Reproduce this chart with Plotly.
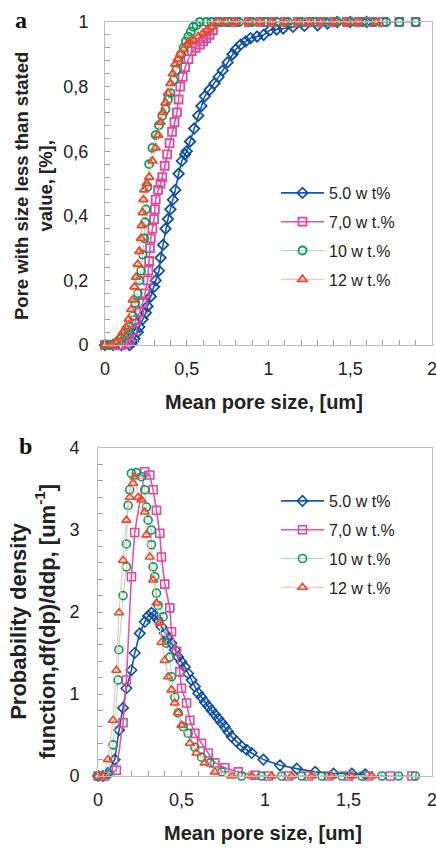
import plotly.graph_objects as go

# ---------------- data ----------------
series_names = ["5.0 w t%", "7,0 w t.%", "10 w t.%", "12 w t.%"]

# Panel a: cumulative distributions (x = mean pore size, um ; y = fraction)
cdf5_x = [0.0, 0.05, 0.10, 0.15, 0.17, 0.18, 0.20, 0.21, 0.23, 0.25, 0.26, 0.28, 0.30, 0.31, 0.33,
          0.34, 0.355, 0.37, 0.385, 0.40, 0.415, 0.43, 0.45, 0.47, 0.49, 0.50, 0.52, 0.545, 0.57,
          0.59, 0.61, 0.64, 0.67, 0.695, 0.72, 0.75, 0.78, 0.80, 0.83, 0.86, 0.89, 0.93, 0.97,
          1.01, 1.05, 1.09, 1.15, 1.22, 1.30, 1.36, 1.42, 1.50, 1.60]
cdf5_y = [0.0, 0.0, 0.0, 0.0, 0.01, 0.02, 0.04, 0.056, 0.08, 0.10, 0.12, 0.15, 0.18, 0.20, 0.23,
          0.27, 0.31, 0.36, 0.39, 0.42, 0.45, 0.48, 0.53, 0.57, 0.59, 0.60, 0.63, 0.67, 0.71,
          0.74, 0.77, 0.79, 0.81, 0.83, 0.85, 0.875, 0.90, 0.915, 0.93, 0.94, 0.95, 0.955, 0.96,
          0.975, 0.977, 0.98, 0.985, 0.988, 0.99, 0.995, 1.0, 1.0, 1.0]

cdf7_x = [0.0, 0.05, 0.10, 0.13, 0.15, 0.17, 0.19, 0.21, 0.23, 0.245, 0.26, 0.265, 0.27, 0.275, 0.28,
          0.29, 0.30, 0.305, 0.31, 0.325, 0.34, 0.35, 0.365, 0.38, 0.395, 0.41, 0.425, 0.44, 0.45,
          0.46, 0.475, 0.49, 0.51, 0.53, 0.555, 0.58, 0.60, 0.62, 0.64, 0.66, 0.69, 0.75, 0.80,
          0.88, 0.95, 1.02, 1.10, 1.18, 1.25, 1.32, 1.40, 1.48, 1.55, 1.62, 1.70, 1.80, 1.90]
cdf7_y = [0.0, 0.0, 0.0, 0.005, 0.015, 0.045, 0.077, 0.10, 0.13, 0.16, 0.20, 0.23, 0.26, 0.30, 0.33,
          0.36, 0.39, 0.42, 0.45, 0.48, 0.50, 0.52, 0.555, 0.59, 0.625, 0.66, 0.69, 0.72, 0.76,
          0.80, 0.83, 0.86, 0.885, 0.91, 0.92, 0.93, 0.94, 0.95, 0.96, 0.975, 1.0, 1.0, 1.0,
          1.0, 1.0, 1.0, 1.0, 1.0, 1.0, 1.0, 1.0, 1.0, 1.0, 1.0, 1.0, 1.0, 1.0]

cdf10_x = [0.0, 0.03, 0.06, 0.08, 0.10, 0.12, 0.14, 0.15, 0.17, 0.185, 0.20, 0.21, 0.22, 0.23, 0.24,
           0.245, 0.25, 0.26, 0.27, 0.29, 0.31, 0.33, 0.35, 0.37, 0.385, 0.40, 0.42, 0.435, 0.45,
           0.465, 0.48, 0.495, 0.51, 0.525, 0.54, 0.56, 0.58, 0.62, 0.65, 0.70, 0.75, 0.82, 0.90,
           0.98, 1.05, 1.12, 1.20, 1.28, 1.35, 1.42, 1.50, 1.58, 1.65, 1.72, 1.80, 1.90]
cdf10_y = [0.0, 0.0, 0.005, 0.01, 0.02, 0.03, 0.045, 0.056, 0.09, 0.13, 0.16, 0.20, 0.23, 0.28, 0.33,
           0.38, 0.42, 0.49, 0.56, 0.61, 0.65, 0.68, 0.71, 0.73, 0.76, 0.78, 0.82, 0.85, 0.88,
           0.90, 0.92, 0.94, 0.955, 0.97, 0.985, 0.99, 1.0, 1.0, 1.0, 1.0, 1.0, 1.0, 1.0,
           1.0, 1.0, 1.0, 1.0, 1.0, 1.0, 1.0, 1.0, 1.0, 1.0, 1.0, 1.0, 1.0]

cdf12_x = [0.0, 0.04, 0.07, 0.09, 0.11, 0.13, 0.145, 0.16, 0.17, 0.18, 0.19, 0.20, 0.21, 0.22, 0.225,
           0.23, 0.235, 0.24, 0.255, 0.27, 0.29, 0.31, 0.325, 0.34, 0.355, 0.37, 0.385, 0.40, 0.415,
           0.43, 0.445, 0.46, 0.48, 0.50, 0.52, 0.54, 0.57, 0.60, 0.625, 0.65, 0.69, 0.74, 0.80,
           0.88, 0.95, 1.02, 1.10, 1.18, 1.25, 1.32, 1.40, 1.48, 1.55, 1.66]
cdf12_y = [0.0, 0.0, 0.01, 0.025, 0.04, 0.056, 0.08, 0.11, 0.14, 0.18, 0.21, 0.25, 0.29, 0.33, 0.37,
           0.41, 0.45, 0.48, 0.50, 0.52, 0.57, 0.61, 0.65, 0.69, 0.72, 0.75, 0.78, 0.81, 0.84,
           0.87, 0.885, 0.90, 0.915, 0.93, 0.94, 0.944, 0.955, 0.966, 0.975, 0.985, 1.0, 1.0, 1.0,
           1.0, 1.0, 1.0, 1.0, 1.0, 1.0, 1.0, 1.0, 1.0, 1.0, 1.0]

# Panel b: probability density functions (um^-1)
pdf5_x = [0.0, 0.03, 0.06, 0.10, 0.126, 0.15, 0.17, 0.20, 0.22, 0.25, 0.28, 0.30, 0.32, 0.34, 0.36,
          0.38, 0.40, 0.42, 0.44, 0.46, 0.48, 0.50, 0.52, 0.54, 0.56, 0.58, 0.60, 0.62, 0.64, 0.66,
          0.68, 0.70, 0.72, 0.74, 0.76, 0.78, 0.80, 0.83, 0.86, 0.89, 0.92, 0.99, 1.09, 1.19, 1.30,
          1.41, 1.52, 1.60]
pdf5_y = [0.0, 0.0, 0.04, 0.20, 0.56, 0.83, 1.07, 1.29, 1.50, 1.74, 1.88, 1.95, 1.99, 1.96, 1.90,
          1.82, 1.74, 1.68, 1.62, 1.54, 1.45, 1.39, 1.33, 1.25, 1.17, 1.09, 1.01, 0.96, 0.90, 0.85,
          0.80, 0.75, 0.70, 0.65, 0.60, 0.54, 0.48, 0.42, 0.36, 0.32, 0.28, 0.20, 0.13, 0.09, 0.05,
          0.03, 0.03, 0.02]

pdf7_x = [0.0, 0.04, 0.11, 0.15, 0.17, 0.20, 0.22, 0.28, 0.31, 0.33, 0.35, 0.37, 0.38, 0.40, 0.43,
          0.44, 0.47, 0.49, 0.50, 0.53, 0.55, 0.58, 0.62, 0.66, 0.70, 0.76, 0.84, 0.94, 1.02, 1.14,
          1.26, 1.38, 1.50, 1.62, 1.75, 1.88]
pdf7_y = [0.0, 0.0, 0.07, 0.65, 1.17, 2.43, 2.97, 3.71, 3.67, 3.49, 3.24, 2.96, 2.67, 2.34, 2.05,
          1.76, 1.52, 1.27, 1.07, 0.89, 0.68, 0.52, 0.40, 0.28, 0.16, 0.10, 0.05, 0.01, 0.0, 0.0,
          0.0, 0.0, 0.0, 0.0, 0.0, 0.0]

pdf10_x = [0.0, 0.06, 0.09, 0.12, 0.125, 0.15, 0.17, 0.17, 0.18, 0.19, 0.20, 0.23, 0.26, 0.28, 0.29,
           0.30, 0.32, 0.32, 0.33, 0.34, 0.35, 0.36, 0.39, 0.41, 0.43, 0.44, 0.46, 0.48, 0.51, 0.54,
           0.58, 0.62, 0.67, 0.74, 0.86, 0.98, 1.10, 1.22, 1.34, 1.46, 1.58, 1.70, 1.80, 1.90]
pdf10_y = [0.0, 0.02, 0.38, 1.17, 1.54, 2.20, 2.55, 2.83, 3.30, 3.49, 3.69, 3.70, 3.65, 3.49, 3.28,
           3.12, 3.00, 2.82, 2.55, 2.43, 2.23, 2.08, 1.94, 1.62, 1.45, 1.21, 0.96, 0.77, 0.60, 0.52,
           0.35, 0.23, 0.16, 0.05, 0.0, 0.0, 0.0, 0.0, 0.0, 0.0, 0.0, 0.0, 0.0, 0.0]

pdf12_x = [0.0, 0.03, 0.06, 0.09, 0.11, 0.126, 0.15, 0.17, 0.19, 0.21, 0.22, 0.24, 0.26, 0.28, 0.29,
           0.31, 0.33, 0.35, 0.37, 0.38, 0.40, 0.42, 0.44, 0.46, 0.48, 0.50, 0.55, 0.59, 0.64, 0.70,
           0.80, 0.92, 1.04, 1.16, 1.28, 1.40, 1.52, 1.64]
pdf12_y = [0.0, 0.0, 0.20, 0.68, 1.29, 1.99, 2.63, 3.12, 3.40, 3.57, 3.65, 3.40, 3.37, 3.22, 2.94,
           2.67, 2.39, 2.11, 1.87, 1.63, 1.41, 1.21, 1.05, 0.89, 0.77, 0.62, 0.40, 0.28, 0.16, 0.05,
           0.0, 0.0, 0.0, 0.0, 0.0, 0.0, 0.0, 0.0]

x_ticks = [0, 0.5, 1, 1.5, 2]
x_tick_text = ["0", "0,5", "1", "1,5", "2"]
ya_ticks = [0, 0.2, 0.4, 0.6, 0.8, 1]
ya_tick_text = ["0", "0,2", "0,4", "0,6", "0,8", "1"]
yb_ticks = [0, 1, 2, 3, 4]
yb_tick_text = ["0", "1", "2", "3", "4"]

# ---------------- styles ----------------
marker_colors = ["#0d4fa6", "#e0479e", "#0a9a5c", "#f0472a"]
line_colors = ["#1a58ad", "#e2559f", "#a6dcc4", "#f8bca6"]
line_widths = [1.6, 1.6, 1.0, 1.0]
symbols = ["diamond-open", "square-open", "circle-open", "triangle-up-open"]
FONT = "Liberation Sans, Arial, sans-serif"
W, H = 436, 853

fig = go.Figure()

cdfs = [(cdf5_x, cdf5_y), (cdf7_x, cdf7_y), (cdf10_x, cdf10_y), (cdf12_x, cdf12_y)]
pdfs = [(pdf5_x, pdf5_y), (pdf7_x, pdf7_y), (pdf10_x, pdf10_y), (pdf12_x, pdf12_y)]

for i, (xs, ys) in enumerate(cdfs):
    fig.add_trace(go.Scatter(
        x=xs, y=ys, mode="lines+markers", name=series_names[i],
        xaxis="x", yaxis="y", legend="legend", legendgroup="a%d" % i,
        line=dict(color=line_colors[i], width=line_widths[i]),
        marker=dict(symbol=symbols[i], size=8, color=marker_colors[i],
                    line=dict(color=marker_colors[i], width=1.8)),
        cliponaxis=False))

for i, (xs, ys) in enumerate(pdfs):
    fig.add_trace(go.Scatter(
        x=xs, y=ys, mode="lines+markers", name=series_names[i],
        xaxis="x2", yaxis="y2", legend="legend2", legendgroup="b%d" % i,
        line=dict(color=line_colors[i], width=line_widths[i]),
        marker=dict(symbol=symbols[i], size=8, color=marker_colors[i],
                    line=dict(color=marker_colors[i], width=1.6)),
        cliponaxis=False))

axis_common = dict(showline=True, linecolor="#bdbdbd", linewidth=1, mirror=True,
                   ticks="inside", ticklen=5, tickcolor="#9e9e9e", showgrid=False,
                   zeroline=False, automargin=False, ticklabeloverflow="allow",
                   tickfont=dict(family=FONT, size=18, color="#222"))

legend_common = dict(xanchor="left", yanchor="top", bgcolor="rgba(0,0,0,0)",
                     tracegroupgap=5, itemwidth=43,
                     font=dict(family=FONT, size=16, color="#222"))

fig.update_layout(
    width=W, height=H, margin=dict(l=0, r=0, t=0, b=0, autoexpand=False),
    paper_bgcolor="white", plot_bgcolor="white",
    font=dict(family=FONT, color="#222"),
    xaxis=dict(domain=[105 / W, 432 / W], range=[0, 2], tickvals=x_ticks, ticktext=x_tick_text,
               anchor="y", ticklabelstandoff=7,
               minor=dict(ticks="inside", dtick=0.1, ticklen=5, tickcolor="#9e9e9e"), **axis_common),
    yaxis=dict(domain=[1 - 345 / H, 1 - 22 / H], range=[0, 1], tickvals=ya_ticks, ticktext=ya_tick_text,
               anchor="x", ticklabelstandoff=12,
               minor=dict(ticks="inside", dtick=0.04, ticklen=5, tickcolor="#9e9e9e"), **axis_common),
    xaxis2=dict(domain=[98 / W, 432 / W], range=[0, 2], tickvals=x_ticks, ticktext=x_tick_text,
                anchor="y2", ticklabelstandoff=7,
                minor=dict(ticks="inside", dtick=0.1, ticklen=5, tickcolor="#9e9e9e"), **axis_common),
    yaxis2=dict(domain=[1 - 776 / H, 1 - 448 / H], range=[0, 4], tickvals=yb_ticks, ticktext=yb_tick_text,
                anchor="x2", ticklabelstandoff=14,
                minor=dict(ticks="inside", dtick=0.2, ticklen=5, tickcolor="#9e9e9e"), **axis_common),
    legend=dict(x=276 / W, y=1 - 176 / H, **legend_common),
    legend2=dict(x=276 / W, y=1 - 484 / H, **legend_common),
)

annotations = [
    dict(text="<b>Mean pore size, [um]</b>", x=264 / W, y=1 - 402 / H, xref="paper", yref="paper",
         showarrow=False, font=dict(family=FONT, size=20, color="#222"),
         xanchor="center", yanchor="middle"),
    dict(text="<b>Mean pore size, [um]</b>", x=263 / W, y=1 - 833 / H, xref="paper", yref="paper",
         showarrow=False, font=dict(family=FONT, size=20, color="#222"),
         xanchor="center", yanchor="middle"),
    dict(text="<b>Pore with size less than stated<br>value, [%],</b>", x=33 / W, y=1 - 186 / H,
         xref="paper", yref="paper", showarrow=False, textangle=-90,
         font=dict(family=FONT, size=18.5, color="#222"),
         xanchor="center", yanchor="middle"),
    dict(text="<b>Probability density<br>function,df(dp)/ddp, [um<sup>-1</sup>]</b>", x=33 / W, y=1 - 622 / H,
         xref="paper", yref="paper", showarrow=False, textangle=-90,
         font=dict(family=FONT, size=22, color="#222"),
         xanchor="center", yanchor="middle"),
    dict(text="<b>a</b>", x=21 / W, y=1 - 20 / H, xref="paper", yref="paper", showarrow=False,
         font=dict(family="Liberation Serif, Times New Roman, serif", size=24, color="#111"),
         xanchor="center", yanchor="middle"),
    dict(text="<b>b</b>", x=25 / W, y=1 - 446 / H, xref="paper", yref="paper", showarrow=False,
         font=dict(family="Liberation Serif, Times New Roman, serif", size=24, color="#111"),
         xanchor="center", yanchor="middle"),
]
fig.update_layout(annotations=annotations)

fig.write_html("out.html", config={"displayModeBar": False},
               post_script="document.body.style.margin='0px';document.body.style.overflow='hidden';")
